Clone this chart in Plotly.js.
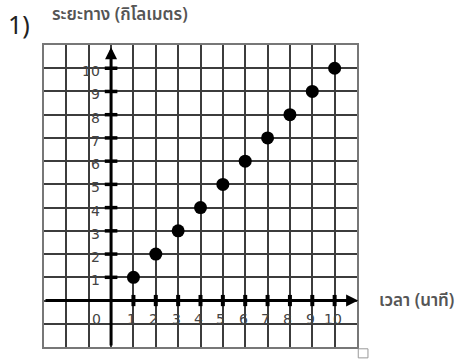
<!DOCTYPE html>
<html>
<head>
<meta charset="utf-8">
<script src="https://cdn.plot.ly/plotly-3.0.1.min.js"></script>
<style>
  html, body { margin: 0; padding: 0; background: #fff; }
  #chart { width: 462px; height: 360px; }
</style>
</head>
<body>
<div id="chart"></div>
<script>
// Time (minutes) against distance (kilometres)
const timeMinutes = [1, 2, 3, 4, 5, 6, 7, 8, 9, 10];
const distanceKm = [1, 2, 3, 4, 5, 6, 7, 8, 9, 10];

// Tick values and labels along the two number lines
const xTickValues = [1, 2, 3, 4, 5, 6, 7, 8, 9, 10];
const xTickLabels = ['1', '2', '3', '4', '5', '6', '7', '8', '9', '10'];
const yTickValues = [1, 2, 3, 4, 5, 6, 7, 8, 9, 10];
const yTickLabels = ['1', '2', '3', '4', '5', '6', '7', '8', '9', '10'];
const originLabel = '0';

const problemLabel = '1)';
const yTitle = 'ระยะทาง (กิโลเมตร)';
const xTitle = 'เวลา (นาที)';

const thaiFont = '"Noto Sans Thai", Tahoma, "Noto Sans", "DejaVu Sans", sans-serif';
const numFont = '"DejaVu Sans", Verdana, sans-serif';

const zeros = (arr) => arr.map(() => 0);

const traces = [
  // tick marks crossing the horizontal number line
  {
    x: xTickValues, y: zeros(xTickValues), type: 'scatter', mode: 'markers',
    hoverinfo: 'skip', showlegend: false,
    marker: { symbol: 'line-ns', size: 8, color: '#000', line: { color: '#000', width: 4 } }
  },
  // tick marks crossing the vertical number line
  {
    x: zeros(yTickValues), y: yTickValues, type: 'scatter', mode: 'markers',
    hoverinfo: 'skip', showlegend: false,
    marker: { symbol: 'line-ew', size: 9, color: '#000', line: { color: '#000', width: 3.5 } }
  },
  // plotted points
  {
    x: timeMinutes, y: distanceKm, type: 'scatter', mode: 'markers',
    showlegend: false,
    marker: { size: 13, color: '#000' }
  }
];

const annotations = [];

// number-line axes with arrowheads
annotations.push({
  x: 11.05, y: 0, ax: -3, ay: 0, xref: 'x', yref: 'y', axref: 'x', ayref: 'y',
  text: '', showarrow: true, arrowhead: 2, arrowsize: 0.8, arrowwidth: 3, arrowcolor: '#000'
});
annotations.push({
  x: 0, y: 10.9, ax: 0, ay: -2, xref: 'x', yref: 'y', axref: 'x', ayref: 'y',
  text: '', showarrow: true, arrowhead: 2, arrowsize: 0.8, arrowwidth: 3, arrowcolor: '#000'
});

// tick labels
xTickValues.forEach((v, i) => {
  annotations.push({
    x: v, y: 0, xref: 'x', yref: 'y', text: xTickLabels[i], showarrow: false,
    xanchor: 'center', yanchor: 'top', yshift: -8, xshift: -2,
    font: { family: numFont, size: 14, color: '#444' }
  });
});
annotations.push({
  x: 0, y: 0, xref: 'x', yref: 'y', text: originLabel, showarrow: false,
  xanchor: 'center', yanchor: 'top', yshift: -8, xshift: -15,
  font: { family: numFont, size: 14, color: '#444' }
});
yTickValues.forEach((v, i) => {
  annotations.push({
    x: 0, y: v, xref: 'x', yref: 'y', text: yTickLabels[i], showarrow: false,
    xanchor: 'right', yanchor: 'middle', xshift: -9, yshift: -3,
    font: { family: numFont, size: 14, color: '#444' }
  });
});

// titles
annotations.push({
  x: -0.12, y: 1.068, xref: 'paper', yref: 'paper', text: problemLabel, showarrow: false,
  xanchor: 'left', yanchor: 'middle', font: { family: '"Noto Sans", sans-serif', size: 25, color: '#222' }
});
annotations.push({
  x: 0.02, y: 1.1, xref: 'paper', yref: 'paper', text: yTitle, showarrow: false,
  xanchor: 'left', yanchor: 'middle', font: { family: thaiFont, size: 17, weight: 600, color: '#555' }
});
annotations.push({
  x: 1.064, y: 0, xref: 'paper', yref: 'y', text: xTitle, showarrow: false,
  xanchor: 'left', yanchor: 'middle', font: { family: thaiFont, size: 17, weight: 600, color: '#555' }
});

const layout = {
  width: 462, height: 360,
  margin: { l: 44, r: 105, t: 45, b: 13, pad: 0 },
  paper_bgcolor: '#fff', plot_bgcolor: '#fff',
  showlegend: false,
  xaxis: {
    range: [-3, 11], dtick: 1, tick0: 0, showgrid: true, gridcolor: '#3c3c3c', gridwidth: 2,
    zeroline: false, showticklabels: false, ticks: '',
    showline: true, mirror: true, linecolor: '#777', linewidth: 2, fixedrange: true
  },
  yaxis: {
    range: [-2, 11], dtick: 1, tick0: 0, showgrid: true, gridcolor: '#3c3c3c', gridwidth: 2,
    zeroline: false, showticklabels: false, ticks: '',
    showline: true, mirror: true, linecolor: '#777', linewidth: 2, fixedrange: true
  },
  annotations: annotations,
  shapes: [
    // small checkbox at the lower right corner
    {
      type: 'rect', xref: 'paper', yref: 'paper', x0: 1.004, x1: 1.035, y0: -0.036, y1: -0.006,
      line: { color: '#999', width: 1 }, fillcolor: 'rgba(0,0,0,0)'
    }
  ]
};

Plotly.newPlot('chart', traces, layout, { displayModeBar: false, staticPlot: true });
</script>
</body>
</html>
